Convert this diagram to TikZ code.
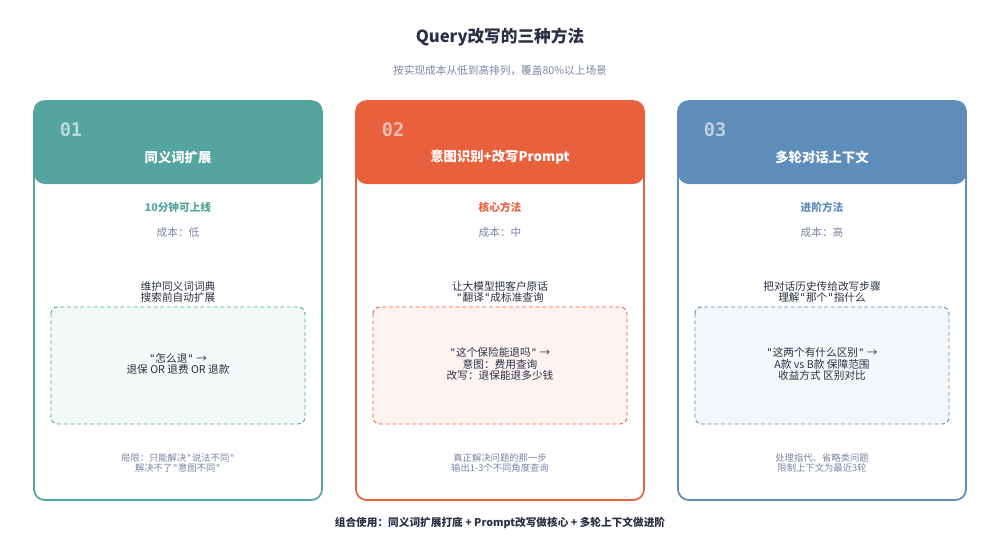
\documentclass[tikz,border=0pt]{standalone}
\usepackage{fontspec}
\setmainfont{Noto Sans CJK SC}
\newfontfamily\monofont{DejaVu Sans Mono}
\newcommand{\dq}{{\monofont\char"22}}
\usetikzlibrary{positioning}
\definecolor{cteal}{HTML}{55A59F}
\definecolor{corange}{HTML}{E8603C}
\definecolor{cblue}{HTML}{5E8DB9}
\definecolor{cgrey}{HTML}{7A84A8}
\definecolor{cdark}{HTML}{2A2F45}
\tikzset{
  card/.style={draw=#1, line width=1.3pt, rounded corners=8pt, fill=white},
  head/.style={fill=#1, rounded corners=8pt},
  exbox/.style={draw=#1, line width=0.7pt, dash pattern=on 3pt off 2pt, rounded corners=5pt, fill=#1!7},
  num/.style={text=white, opacity=0.6, font=\monofont\bfseries\fontsize{14}{14}\selectfont},
  htitle/.style={text=white, font=\bfseries\fontsize{10}{11}\selectfont},
  sub/.style={text=#1, font=\bfseries\fontsize{8}{9}\selectfont},
  cost/.style={text=cgrey, font=\fontsize{8}{9}\selectfont},
  desc/.style={text=cdark, align=center, font=\fontsize{8}{8.5}\selectfont},
  note/.style={text=cgrey, align=center, font=\itshape\fontsize{7}{8}\selectfont},
}
\begin{document}
\begin{tikzpicture}[x=0.75pt,y=-0.75pt]
	\useasboundingbox (0,0) rectangle (1000,543);
	
	\node[text=cdark, font=\bfseries\fontsize{12.5}{14}\selectfont] (title) at (500,37) {Query改写的三种方法};
	\node[cost] (subtitle) at (500,71) {按实现成本从低到高排列，覆盖80\%以上场景};
	
	% card 1
	\draw[card=cteal] (34,101) rectangle (322,500);
	\fill[head=cteal] (34,101) rectangle (322,184);
	\node[num] (n1) at (71,130) {01};
	\node[htitle] (t1) at (178,157) {同义词扩展};
	\node[sub=cteal] (s1) at (178,207) {10分钟可上线};
	\node[cost] (c1) at (178,232) {成本：低};
	\node[desc] (d1) at (178,292) {维护同义词词典\\搜索前自动扩展};
	\draw[exbox=cteal] (51,307) rectangle (305,424);
	\node[desc] (e1) at (178,364) {\dq 怎么退\dq{} →\\退保 OR 退费 OR 退款};
	\node[note] (f1) at (178,463) {局限：只能解决\dq 说法不同\dq\\解决不了\dq 意图不同\dq};
	
	% card 2
	\draw[card=corange] (356,101) rectangle (644,500);
	\fill[head=corange] (356,101) rectangle (644,184);
	\node[num] (n2) at (393,130) {02};
	\node[htitle] (t2) at (500,157) {意图识别+改写Prompt};
	\node[sub=corange] (s2) at (500,207) {核心方法};
	\node[cost] (c2) at (500,232) {成本：中};
	\node[desc] (d2) at (500,292) {让大模型把客户原话\\\dq 翻译\dq 成标准查询};
	\draw[exbox=corange] (373,307) rectangle (627,424);
	\node[desc] (e2) at (500,364) {\dq 这个保险能退吗\dq{} →\\意图：费用查询\\改写：退保能退多少钱};
	\node[note] (f2) at (500,463) {真正解决问题的那一步\\输出1-3个不同角度查询};
	
	% card 3
	\draw[card=cblue] (678,101) rectangle (966,500);
	\fill[head=cblue] (678,101) rectangle (966,184);
	\node[num] (n3) at (715,130) {03};
	\node[htitle] (t3) at (822,157) {多轮对话上下文};
	\node[sub=cblue] (s3) at (822,207) {进阶方法};
	\node[cost] (c3) at (822,232) {成本：高};
	\node[desc] (d3) at (822,292) {把对话历史传给改写步骤\\理解\dq 那个\dq 指什么};
	\draw[exbox=cblue] (695,307) rectangle (949,424);
	\node[desc] (e3) at (822,364) {\dq 这两个有什么区别\dq{} →\\A款 vs B款 保障范围\\收益方式 区别对比};
	\node[note] (f3) at (822,463) {处理指代、省略类问题\\限制上下文为最近3轮};
	
	\node[text=cdark, font=\bfseries\fontsize{8}{10}\selectfont] (combo) at (500,523) {组合使用：同义词扩展打底 + Prompt改写做核心 + 多轮上下文做进阶};
	
\end{tikzpicture}
\end{document}
